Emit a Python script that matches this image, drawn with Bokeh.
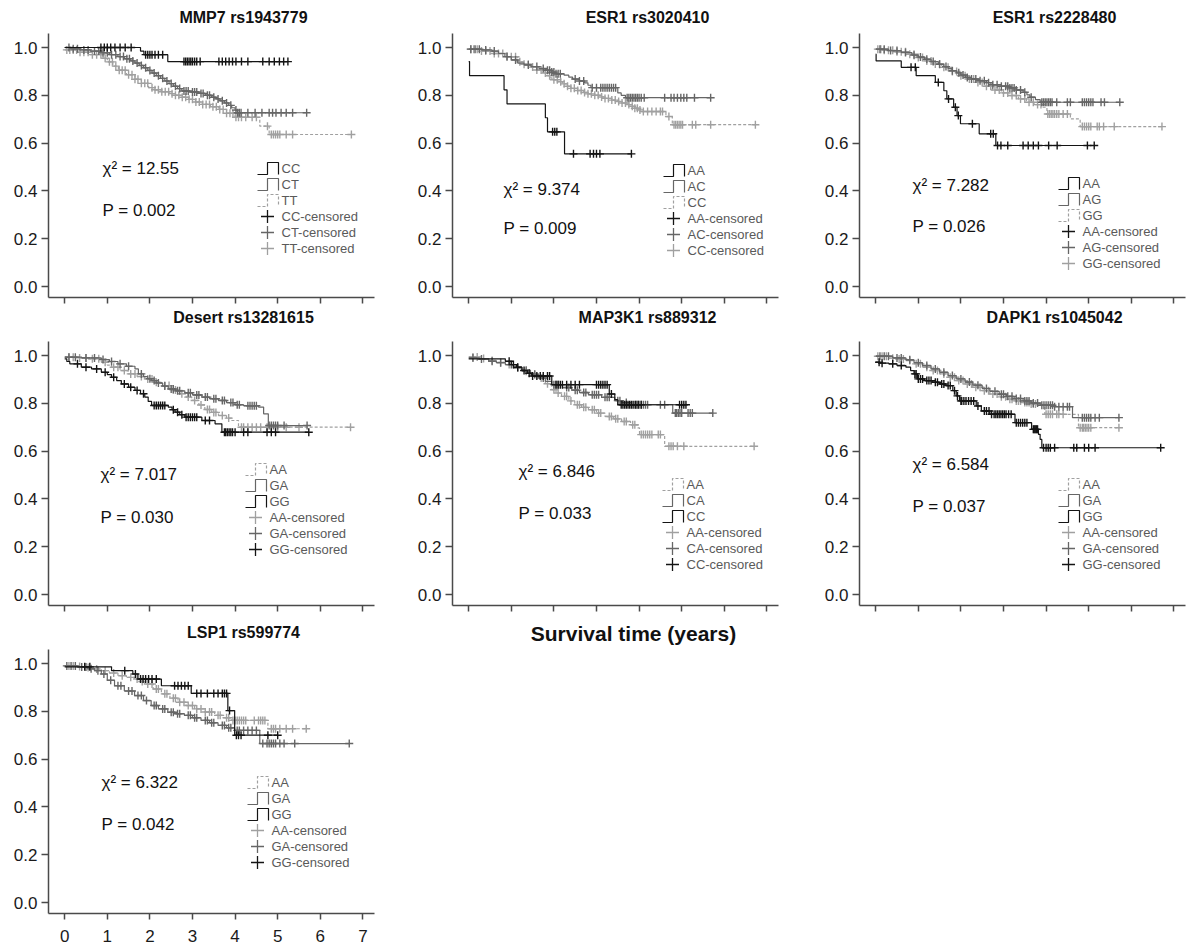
import numpy as np
from bokeh.plotting import figure
from bokeh.layouts import column, row
from bokeh.models import Range1d, FixedTicker, NumeralTickFormatter, Label, CustomLabelingPolicy
from bokeh.embed import file_html
from bokeh.resources import INLINE

# ------------------------------------------------------------------ data
X_TICKS = [0, 1, 2, 3, 4, 5, 6, 7]
Y_TICKS = [0.0, 0.2, 0.4, 0.6, 0.8, 1.0]
X_LABEL = "Survival time (years)"

TITLES = ["MMP7 rs1943779", "ESR1 rs3020410", "ESR1 rs2228480",
          "Desert rs13281615", "MAP3K1 rs889312", "DAPK1 rs1045042",
          "LSP1 rs599774"]
CHI2 = ["12.55", "9.374", "7.282", "7.017", "6.846", "6.584", "6.322"]
PVALS = ["0.002", "0.009", "0.026", "0.030", "0.033", "0.037", "0.042"]
GROUPS = [["CC", "CT", "TT"], ["AA", "AC", "CC"], ["AA", "AG", "GG"],
          ["AA", "GA", "GG"], ["AA", "CA", "CC"], ["AA", "GA", "GG"],
          ["AA", "GA", "GG"]]

# --- MMP7 rs1943779
MMP7_CC_T = [0, 1.78, 1.86, 2.42, 5.24]
MMP7_CC_S = [1.0, 0.985, 0.97, 0.941, 0.941]
MMP7_CC_C = [0.85, 0.93, 1.0, 1.08, 1.18, 1.3, 1.42, 1.56, 1.9, 1.95, 2.0, 2.05, 2.12, 2.2, 2.3,
             2.8, 2.84, 2.88, 2.92, 2.96, 3.0, 3.05, 3.1, 3.18, 3.62, 3.7, 3.78, 3.86, 3.94, 4.02,
             4.15, 4.3, 4.65, 4.8, 4.92, 5.04, 5.14, 5.24]
MMP7_CT_T = [0, 0.15, 0.35, 0.6, 0.85, 1.05, 1.25, 1.4, 1.55, 1.65, 1.75, 1.85, 1.95, 2.05, 2.15,
             2.25, 2.35, 2.45, 2.55, 2.65, 2.75, 2.95, 3.15, 3.3, 3.45, 3.55, 3.65, 3.75, 3.85,
             3.92, 4.0, 4.05, 5.68]
MMP7_CT_S = [1.0, 0.995, 0.99, 0.985, 0.978, 0.97, 0.962, 0.953, 0.944, 0.935, 0.925, 0.915,
             0.904, 0.893, 0.882, 0.871, 0.86, 0.849, 0.838, 0.828, 0.818, 0.814, 0.808, 0.8,
             0.792, 0.785, 0.777, 0.768, 0.758, 0.748, 0.738, 0.727, 0.727]
MMP7_CT_C = [0.1, 0.2, 0.3, 0.45, 0.55, 0.7, 0.8, 0.9, 1.0, 1.1, 1.2, 1.3, 1.38, 1.46, 1.52, 1.6,
             1.7, 1.8, 1.9, 2.0, 2.1, 2.2, 2.3, 2.4, 2.5, 2.6, 2.7, 2.8, 2.85, 2.9, 3.0, 3.05,
             3.1, 3.2, 3.25, 3.35, 3.4, 3.5, 3.6, 3.7, 3.8, 3.9, 4.02, 4.06, 4.1, 4.14, 4.3,
             4.47, 4.63, 4.8, 4.88, 4.96, 5.08, 5.2, 5.35, 5.68]
MMP7_TT_T = [0, 0.3, 0.6, 0.9, 1.0, 1.13, 1.26, 1.45, 1.65, 1.8, 1.97, 2.12, 2.28, 2.45, 2.6,
             2.75, 2.91, 3.07, 3.23, 3.42, 3.62, 3.8, 4.0, 4.58, 4.8, 6.73]
MMP7_TT_S = [0.99, 0.98, 0.97, 0.955, 0.94, 0.922, 0.905, 0.886, 0.867, 0.85, 0.832, 0.823,
             0.815, 0.807, 0.8, 0.792, 0.783, 0.772, 0.762, 0.752, 0.741, 0.725, 0.708, 0.671,
             0.636, 0.636]
MMP7_TT_C = [0.05, 0.12, 0.2, 0.28, 0.36, 0.45, 0.55, 0.65, 0.75, 0.85, 0.95, 1.05, 1.12, 1.2,
             1.28, 1.35, 1.42, 1.5, 1.58, 1.65, 1.72, 1.8, 1.88, 1.95, 2.05, 2.12, 2.2, 2.28,
             2.36, 2.44, 2.52, 2.6, 2.68, 2.76, 2.84, 2.92, 3.0, 3.08, 3.16, 3.24, 3.32, 3.4,
             3.48, 3.56, 3.64, 3.72, 3.8, 3.88, 3.95, 4.02, 4.08, 4.15, 4.25, 4.4, 4.5, 4.76,
             4.85, 4.9, 4.95, 5.0, 5.05, 5.2, 5.35, 6.73]

# --- ESR1 rs3020410
ESR1A_AA_T = [0, 0.02, 0.83, 0.9, 1.8, 1.85, 2.25, 3.82]
ESR1A_AA_S = [0.941, 0.882, 0.823, 0.764, 0.706, 0.647, 0.555, 0.555]
ESR1A_AA_C = [1.97, 2.02, 2.07, 2.46, 2.85, 2.93, 3.0, 3.08, 3.82]
ESR1A_AC_T = [0, 0.3, 0.55, 0.7, 0.85, 1.0, 1.15, 1.3, 1.46, 1.65, 1.81, 1.95, 2.05, 2.24, 2.35,
              2.44, 2.6, 2.72, 2.8, 2.87, 3.5, 3.58, 3.68, 5.68]
ESR1A_AC_S = [0.993, 0.99, 0.985, 0.975, 0.962, 0.948, 0.935, 0.927, 0.92, 0.912, 0.905, 0.897,
              0.89, 0.884, 0.876, 0.868, 0.86, 0.852, 0.842, 0.832, 0.81, 0.8, 0.79, 0.79]
ESR1A_AC_C = [0.05, 0.15, 0.25, 0.4, 0.6, 0.9, 1.1, 1.4, 1.6, 1.75, 1.85, 1.9, 1.95, 2.0, 2.05,
              2.1, 2.15, 2.5, 2.6, 2.7, 2.9, 3.0, 3.1, 3.15, 3.2, 3.25, 3.3, 3.35, 3.4, 3.45,
              3.72, 3.76, 3.8, 3.84, 3.88, 3.92, 3.96, 4.0, 4.05, 4.12, 4.6, 4.75, 4.82, 4.9,
              4.98, 5.05, 5.12, 5.3, 5.68]
ESR1A_CC_T = [0, 0.3, 0.6, 0.9, 1.15, 1.3, 1.46, 1.6, 1.77, 1.85, 1.93, 2.0, 2.09, 2.2, 2.3, 2.4,
              2.55, 2.7, 2.8, 2.95, 3.1, 3.2, 3.35, 3.5, 3.6, 3.72, 3.82, 3.9, 3.97, 4.04, 4.63,
              4.78, 6.73]
ESR1A_CC_S = [0.993, 0.985, 0.975, 0.961, 0.94, 0.93, 0.918, 0.906, 0.893, 0.882, 0.872, 0.865,
              0.857, 0.848, 0.838, 0.829, 0.82, 0.812, 0.806, 0.8, 0.793, 0.787, 0.78, 0.774,
              0.768, 0.761, 0.754, 0.746, 0.739, 0.732, 0.711, 0.677, 0.677]
ESR1A_CC_C = [0.05, 0.12, 0.2, 0.3, 0.4, 0.5, 0.6, 0.7, 0.8, 0.9, 1.0, 1.1, 1.2, 1.3, 1.4, 1.5,
              1.6, 1.7, 1.8, 1.9, 2.0, 2.08, 2.16, 2.24, 2.32, 2.4, 2.48, 2.56, 2.64, 2.72, 2.8,
              2.88, 2.96, 3.04, 3.12, 3.2, 3.28, 3.36, 3.44, 3.52, 3.6, 3.68, 3.76, 3.84, 3.9,
              3.96, 4.02, 4.1, 4.2, 4.3, 4.4, 4.5, 4.55, 4.7, 4.82, 4.86, 4.9, 4.94, 4.98, 5.02,
              5.25, 5.33, 5.68, 6.73]

# --- ESR1 rs2228480
ESR1B_AA_T = [0, 0.01, 0.6, 0.95, 1.4, 1.6, 1.67, 1.83, 1.91, 1.99, 2.43, 2.82, 5.13]
ESR1B_AA_S = [0.972, 0.944, 0.917, 0.882, 0.854, 0.819, 0.785, 0.75, 0.715, 0.681, 0.639, 0.59,
              0.59]
ESR1B_AA_C = [0.83, 0.93, 1.47, 1.71, 1.87, 1.94, 2.27, 2.7, 2.76, 2.86, 2.94, 3.1, 3.46, 3.58,
              3.7, 3.82, 4.06, 4.26, 4.97, 5.13]
ESR1B_AG_T = [0, 0.3, 0.6, 0.85, 1.0, 1.15, 1.3, 1.47, 1.6, 1.7, 1.79, 1.9, 2.0, 2.11, 2.25,
              2.43, 2.6, 2.74, 2.95, 3.14, 3.3, 3.46, 3.55, 3.62, 3.75, 3.86, 5.73]
ESR1B_AG_S = [0.993, 0.987, 0.979, 0.968, 0.96, 0.951, 0.941, 0.93, 0.92, 0.912, 0.903, 0.894,
              0.885, 0.875, 0.868, 0.861, 0.853, 0.844, 0.838, 0.831, 0.822, 0.8125, 0.802,
              0.792, 0.782, 0.771, 0.771]
ESR1B_AG_C = [0.1, 0.2, 0.35, 0.5, 0.7, 0.9, 1.05, 1.2, 1.35, 1.5, 1.65, 1.8, 1.95, 2.05, 2.15,
              2.25, 2.35, 2.45, 2.55, 2.65, 2.75, 2.85, 2.95, 3.05, 3.1, 3.15, 3.2, 3.25, 3.3,
              3.4, 3.5, 3.65, 3.9, 3.94, 3.98, 4.02, 4.06, 4.1, 4.14, 4.25, 4.5, 4.57, 4.85,
              4.9, 4.95, 5.0, 5.05, 5.1, 5.29, 5.37, 5.73]
ESR1B_GG_T = [0, 0.2, 0.45, 0.76, 0.95, 1.15, 1.35, 1.55, 1.75, 1.95, 2.15, 2.35, 2.55, 2.74,
              2.95, 3.14, 3.35, 3.54, 3.72, 3.9, 4.02, 4.57, 4.8, 6.72]
ESR1B_GG_S = [0.993, 0.988, 0.982, 0.972, 0.958, 0.944, 0.931, 0.917, 0.9, 0.882, 0.868, 0.854,
              0.838, 0.822, 0.81, 0.799, 0.785, 0.771, 0.761, 0.75, 0.722, 0.701, 0.669, 0.669]
ESR1B_GG_C = [0.05, 0.12, 0.2, 0.3, 0.4, 0.5, 0.6, 0.7, 0.8, 0.9, 1.0, 1.1, 1.2, 1.3, 1.4, 1.5,
              1.6, 1.7, 1.8, 1.9, 2.0, 2.1, 2.2, 2.3, 2.4, 2.5, 2.6, 2.7, 2.8, 2.9, 3.0, 3.1,
              3.2, 3.3, 3.4, 3.5, 3.6, 3.7, 3.8, 3.88, 4.04, 4.08, 4.12, 4.16, 4.2, 4.25, 4.3,
              4.4, 4.5, 4.85, 4.9, 4.95, 5.0, 5.05, 5.2, 5.25, 5.35, 5.6, 6.72]

# --- Desert rs13281615
DESERT_AA_T = [0, 0.3, 0.55, 0.86, 1.0, 1.1, 1.3, 1.49, 1.7, 1.88, 2.1, 2.27, 2.5, 2.67, 2.85,
               2.98, 3.15, 3.29, 3.45, 3.61, 3.8, 3.92, 4.08, 6.71]
DESERT_AA_S = [0.993, 0.99, 0.986, 0.972, 0.96, 0.951, 0.937, 0.923, 0.912, 0.902, 0.888, 0.874,
               0.856, 0.84, 0.826, 0.812, 0.793, 0.774, 0.762, 0.749, 0.738, 0.728, 0.70, 0.70]
DESERT_AA_C = [0.1, 0.2, 0.35, 0.5, 0.65, 0.8, 0.95, 1.15, 1.25, 1.4, 1.55, 1.65, 1.8, 1.95,
               2.05, 2.15, 2.35, 2.45, 2.55, 2.6, 2.75, 2.9, 3.05, 3.2, 3.35, 3.4, 3.5, 3.55,
               3.7, 3.85, 4.15, 4.2, 4.3, 4.4, 4.5, 4.6, 4.75, 4.85, 5.0, 5.2, 5.5, 6.71]
DESERT_GA_T = [0, 0.4, 0.86, 1.05, 1.25, 1.45, 1.65, 1.73, 1.85, 1.95, 2.04, 2.15, 2.3, 2.43,
               2.6, 2.82, 3.0, 3.22, 3.4, 3.61, 3.8, 4.0, 4.2, 4.55, 4.67, 4.78, 5.69]
DESERT_GA_S = [0.993, 0.99, 0.983, 0.975, 0.965, 0.955, 0.944, 0.923, 0.912, 0.903, 0.895, 0.885,
               0.872, 0.86, 0.852, 0.844, 0.835, 0.826, 0.819, 0.812, 0.803, 0.794, 0.79, 0.784,
               0.756, 0.707, 0.707]
DESERT_GA_C = [0.1, 0.25, 0.5, 0.7, 0.9, 1.1, 1.3, 1.5, 1.8, 2.0, 2.1, 2.2, 2.35, 2.5, 2.55,
               2.65, 2.7, 2.9, 2.95, 3.1, 3.15, 3.3, 3.35, 3.5, 3.55, 3.7, 3.75, 3.9, 3.95, 4.05,
               4.1, 4.3, 4.35, 4.4, 4.45, 4.5, 4.8, 4.85, 4.9, 4.95, 5.0, 5.15, 5.69]
DESERT_GG_T = [0, 0.05, 0.12, 0.39, 0.63, 0.86, 1.0, 1.1, 1.22, 1.33, 1.5, 1.65, 1.78, 1.88,
               1.96, 2.04, 2.43, 2.52, 2.59, 2.7, 2.82, 3.22, 3.53, 3.69, 5.73]
DESERT_GG_S = [0.986, 0.975, 0.965, 0.951, 0.944, 0.93, 0.92, 0.909, 0.895, 0.881, 0.867, 0.854,
               0.84, 0.826, 0.808, 0.791, 0.784, 0.773, 0.763, 0.752, 0.742, 0.728, 0.714, 0.679,
               0.679]
DESERT_GG_C = [0.3, 0.5, 0.75, 0.95, 1.15, 1.4, 1.55, 1.7, 1.85, 2.1, 2.15, 2.2, 2.25, 2.3, 2.35,
               2.55, 2.65, 2.75, 2.85, 2.9, 2.95, 3.0, 3.05, 3.1, 3.3, 3.4, 3.75, 3.78, 3.82,
               3.86, 3.9, 3.94, 4.0, 4.2, 4.3, 4.75, 4.85, 4.95, 5.73]

# --- MAP3K1 rs889312
MAP3K1_AA_T = [0, 0.25, 0.47, 0.65, 0.86, 1.05, 1.25, 1.45, 1.64, 1.8, 1.95, 2.05, 2.18, 2.35,
               2.49, 2.65, 2.81, 3.0, 3.2, 3.4, 3.59, 3.8, 3.97, 4.01, 4.6, 6.7]
MAP3K1_AA_S = [0.994, 0.987, 0.979, 0.971, 0.962, 0.948, 0.934, 0.92, 0.906, 0.882, 0.857, 0.843,
               0.829, 0.81, 0.794, 0.783, 0.773, 0.759, 0.745, 0.735, 0.724, 0.71, 0.697, 0.669,
               0.62, 0.62]
MAP3K1_AA_C = [0.1, 0.2, 0.35, 0.55, 0.75, 0.95, 1.15, 1.35, 1.55, 1.7, 1.85, 2.0, 2.1, 2.25,
               2.3, 2.4, 2.55, 2.6, 2.7, 2.75, 2.9, 2.95, 3.05, 3.1, 3.3, 3.35, 3.45, 3.5, 3.65,
               3.7, 3.85, 3.9, 4.05, 4.1, 4.15, 4.2, 4.25, 4.3, 4.45, 4.5, 4.7, 4.75, 4.8, 4.9,
               5.05, 6.7]
MAP3K1_CA_T = [0, 0.25, 0.47, 0.65, 0.86, 1.05, 1.25, 1.45, 1.64, 1.8, 1.95, 2.2, 2.42, 2.6,
               2.81, 3.12, 3.43, 3.6, 3.82, 4.79, 5.73]
MAP3K1_CA_S = [0.99, 0.985, 0.976, 0.97, 0.962, 0.95, 0.938, 0.922, 0.906, 0.892, 0.878, 0.866,
               0.855, 0.845, 0.836, 0.825, 0.811, 0.803, 0.794, 0.759, 0.759]
MAP3K1_CA_C = [0.1, 0.3, 0.55, 0.75, 1.0, 1.15, 1.35, 1.55, 1.75, 2.0, 2.05, 2.1, 2.3, 2.35, 2.5,
               2.55, 2.7, 2.75, 2.9, 2.95, 3.0, 3.05, 3.2, 3.25, 3.3, 3.5, 3.55, 3.7, 3.9, 3.95,
               4.0, 4.05, 4.1, 4.15, 4.2, 4.5, 4.6, 4.85, 4.88, 4.92, 4.96, 5.0, 5.15, 5.2, 5.25,
               5.73]
MAP3K1_CC_T = [0, 0.86, 1.0, 1.12, 1.25, 1.38, 1.48, 1.95, 3.3, 3.43, 3.5, 5.1]
MAP3K1_CC_S = [0.986, 0.976, 0.962, 0.951, 0.937, 0.926, 0.914, 0.878, 0.839, 0.815, 0.794, 0.794]
MAP3K1_CC_C = [0.95, 1.05, 1.15, 1.3, 1.42, 1.5, 1.6, 1.68, 1.75, 1.85, 1.9, 2.05, 2.1, 2.15,
               2.2, 2.3, 2.4, 2.5, 2.6, 3.0, 3.05, 3.1, 3.15, 3.2, 3.25, 3.35, 3.58, 3.62, 3.66,
               3.7, 3.74, 3.78, 3.82, 3.86, 3.92, 3.98, 4.05, 4.95, 5.0, 5.05, 5.1]

# --- DAPK1 rs1045042
DAPK1_AA_T = [0, 0.31, 0.5, 0.71, 0.9, 1.1, 1.3, 1.5, 1.7, 1.89, 2.1, 2.28, 2.5, 2.68, 2.9,
              3.07, 3.25, 3.46, 3.62, 3.78, 3.97, 4.76, 5.71]
DAPK1_AA_S = [0.997, 0.989, 0.985, 0.979, 0.965, 0.951, 0.937, 0.923, 0.909, 0.895, 0.881, 0.867,
              0.853, 0.839, 0.827, 0.817, 0.81, 0.803, 0.797, 0.792, 0.754, 0.698, 0.698]
DAPK1_AA_C = [0.05, 0.15, 0.25, 0.4, 0.55, 0.65, 0.8, 0.95, 1.05, 1.2, 1.35, 1.45, 1.6, 1.75,
              1.85, 1.95, 2.05, 2.15, 2.25, 2.35, 2.45, 2.55, 2.65, 2.75, 2.85, 2.95, 3.05, 3.15,
              3.2, 3.3, 3.35, 3.4, 3.5, 3.55, 3.6, 3.65, 3.7, 3.75, 4.0, 4.05, 4.1, 4.15, 4.25,
              4.3, 4.4, 4.8, 4.85, 4.88, 4.92, 4.96, 5.0, 5.05, 5.71]
DAPK1_GA_T = [0, 0.4, 0.71, 0.9, 1.1, 1.3, 1.5, 1.7, 1.89, 2.1, 2.28, 2.5, 2.68, 2.9, 3.07,
              3.25, 3.46, 3.65, 3.86, 4.2, 4.62, 5.71]
DAPK1_GA_S = [0.997, 0.99, 0.982, 0.97, 0.958, 0.944, 0.93, 0.916, 0.902, 0.889, 0.876, 0.862,
              0.85, 0.838, 0.829, 0.82, 0.81, 0.801, 0.792, 0.786, 0.74, 0.74]
DAPK1_GA_C = [0.1, 0.2, 0.3, 0.5, 0.6, 0.8, 1.0, 1.2, 1.4, 1.6, 1.8, 2.0, 2.2, 2.4, 2.6, 2.8,
              2.95, 3.0, 3.1, 3.2, 3.3, 3.4, 3.5, 3.55, 3.6, 3.7, 3.8, 3.9, 3.95, 4.0, 4.05, 4.1,
              4.15, 4.2, 4.3, 4.4, 4.5, 4.55, 4.85, 4.9, 4.95, 5.0, 5.05, 5.15, 5.25, 5.71]
DAPK1_GG_T = [0, 0.1, 0.31, 0.5, 0.71, 0.82, 0.9, 0.98, 1.15, 1.34, 1.5, 1.65, 1.81, 1.89, 1.97,
              2.36, 2.48, 2.68, 3.27, 3.66, 3.82, 3.86, 3.9, 6.69]
DAPK1_GG_S = [0.972, 0.968, 0.965, 0.958, 0.951, 0.937, 0.923, 0.902, 0.895, 0.888, 0.881, 0.874,
              0.853, 0.831, 0.81, 0.789, 0.768, 0.754, 0.719, 0.691, 0.67, 0.649, 0.614, 0.614]
DAPK1_GG_C = [0.08, 0.15, 0.4, 0.6, 0.92, 0.95, 1.0, 1.05, 1.1, 1.2, 1.25, 1.3, 1.4, 1.45, 1.55,
              1.6, 1.7, 1.75, 1.85, 1.92, 2.0, 2.02, 2.07, 2.12, 2.18, 2.24, 2.3, 2.4, 2.55, 2.6,
              2.66, 2.72, 2.78, 2.82, 2.86, 2.9, 2.94, 2.98, 3.02, 3.06, 3.12, 3.18, 3.3, 3.35,
              3.4, 3.45, 3.5, 3.55, 3.7, 3.72, 3.74, 3.76, 3.78, 3.8, 3.94, 4.0, 4.05, 4.1, 4.2,
              4.65, 4.72, 4.9, 5.0, 5.15, 6.69]

# --- LSP1 rs599774
LSP1_AA_T = [0, 0.25, 0.47, 0.65, 0.86, 1.05, 1.25, 1.45, 1.64, 1.76, 1.88, 2.08, 2.27, 2.47,
             2.66, 2.85, 3.05, 3.28, 3.52, 3.72, 3.91, 4.77, 5.67]
LSP1_AA_S = [0.99, 0.987, 0.983, 0.977, 0.97, 0.96, 0.949, 0.942, 0.935, 0.925, 0.914, 0.893,
             0.873, 0.855, 0.838, 0.824, 0.81, 0.797, 0.783, 0.773, 0.762, 0.727, 0.727]
LSP1_AA_C = [0.1, 0.2, 0.35, 0.55, 0.75, 0.95, 1.15, 1.35, 1.55, 1.7, 1.82, 1.95, 2.05, 2.15,
             2.2, 2.35, 2.4, 2.55, 2.6, 2.7, 2.8, 2.9, 3.0, 3.1, 3.2, 3.3, 3.4, 3.45, 3.6, 3.65,
             3.8, 3.85, 3.95, 4.0, 4.05, 4.1, 4.15, 4.2, 4.25, 4.45, 4.55, 4.6, 4.65, 4.7, 4.85,
             4.9, 4.95, 5.05, 5.2, 5.35, 5.67]
LSP1_GA_T = [0, 0.3, 0.55, 0.7, 0.86, 1.0, 1.17, 1.4, 1.64, 1.85, 2.03, 2.2, 2.42, 2.6, 2.81,
             3.0, 3.2, 3.4, 3.6, 3.8, 3.99, 4.58, 6.68]
LSP1_GA_S = [0.99, 0.985, 0.978, 0.97, 0.956, 0.93, 0.907, 0.885, 0.866, 0.845, 0.824, 0.81,
             0.796, 0.79, 0.783, 0.773, 0.762, 0.752, 0.741, 0.731, 0.72, 0.665, 0.665]
LSP1_GA_C = [0.05, 0.15, 0.25, 0.4, 0.5, 0.62, 0.78, 0.92, 1.08, 1.25, 1.32, 1.5, 1.58, 1.72,
             1.8, 1.92, 2.1, 2.15, 2.3, 2.35, 2.5, 2.55, 2.65, 2.7, 2.9, 2.95, 3.05, 3.1, 3.3,
             3.35, 3.45, 3.5, 3.7, 3.75, 3.85, 3.9, 4.05, 4.1, 4.2, 4.3, 4.4, 4.5, 4.65, 4.75,
             4.8, 4.85, 4.9, 4.95, 5.05, 5.15, 5.4, 6.68]
LSP1_GG_T = [0, 1.1, 1.6, 1.72, 2.27, 2.97, 3.83, 3.99, 5.0]
LSP1_GG_S = [0.986, 0.97, 0.956, 0.935, 0.907, 0.875, 0.803, 0.70, 0.70]
LSP1_GG_C = [0.47, 0.59, 1.41, 1.66, 1.78, 1.84, 1.9, 1.97, 2.05, 2.15, 2.58, 2.66, 2.74, 2.82,
             2.9, 3.1, 3.2, 3.35, 3.5, 3.6, 3.7, 3.75, 3.8, 3.87, 4.03, 4.08, 4.14, 4.77, 5.0]

PANEL_SERIES = [
    [(MMP7_CC_T, MMP7_CC_S, MMP7_CC_C), (MMP7_CT_T, MMP7_CT_S, MMP7_CT_C), (MMP7_TT_T, MMP7_TT_S, MMP7_TT_C)],
    [(ESR1A_AA_T, ESR1A_AA_S, ESR1A_AA_C), (ESR1A_AC_T, ESR1A_AC_S, ESR1A_AC_C), (ESR1A_CC_T, ESR1A_CC_S, ESR1A_CC_C)],
    [(ESR1B_AA_T, ESR1B_AA_S, ESR1B_AA_C), (ESR1B_AG_T, ESR1B_AG_S, ESR1B_AG_C), (ESR1B_GG_T, ESR1B_GG_S, ESR1B_GG_C)],
    [(DESERT_AA_T, DESERT_AA_S, DESERT_AA_C), (DESERT_GA_T, DESERT_GA_S, DESERT_GA_C), (DESERT_GG_T, DESERT_GG_S, DESERT_GG_C)],
    [(MAP3K1_AA_T, MAP3K1_AA_S, MAP3K1_AA_C), (MAP3K1_CA_T, MAP3K1_CA_S, MAP3K1_CA_C), (MAP3K1_CC_T, MAP3K1_CC_S, MAP3K1_CC_C)],
    [(DAPK1_AA_T, DAPK1_AA_S, DAPK1_AA_C), (DAPK1_GA_T, DAPK1_GA_S, DAPK1_GA_C), (DAPK1_GG_T, DAPK1_GG_S, DAPK1_GG_C)],
    [(LSP1_AA_T, LSP1_AA_S, LSP1_AA_C), (LSP1_GA_T, LSP1_GA_S, LSP1_GA_C), (LSP1_GG_T, LSP1_GG_S, LSP1_GG_C)],
]

# ------------------------------------------------------------------ styles / layout
STYLES = {
    "k": dict(color="#141414", dash="solid"),
    "m": dict(color="#666666", dash="solid"),
    "l": dict(color="#a0a0a0", dash="3 2"),
}
PANEL_STYLES = [["k", "m", "l"]] * 3 + [["l", "m", "k"]] * 4
DRAW_ORDER = {"l": 0, "m": 1, "k": 2}

FONT = "Liberation Sans"
AXIS_COLOR = "#4a4a4a"
FW, FH = 326, 264            # size of the axes box (y-axis line length = FH)
PXY = 239.0                  # pixels per unit of survival
X0 = -0.38
X1 = X0 + FW / 42.6
Y1 = 1.0 + 14 / PXY
Y0 = -11 / PXY

COL_L = [48, 44, 46]
COL_R = [34, 35, 6]
ROW_T = [33, 33, 32]         # headroom above the axes box (title lives here)
ROW_B = [11, 12, 36]
TITLE_GAP = [16, 24, 17]     # px from axes-box top to title centre
TITLE_CX = 195               # px from frame left to title centre

# frame-relative pixel anchors
LEG_POS = [(209, 135), (211, 137), (199, 150), (197, 128), (210, 143), (199, 143), (199, 133)]
STAT_POS = [(54, 135, 177), (51, 156, 195), (53, 152, 193), (52, 133, 176),
            (66, 130, 172), (53, 123, 165), (53, 133, 175)]

NO_LABELS = CustomLabelingPolicy(code="return []")


def fx(dx):
    return X0 + dx / FW * (X1 - X0)


def fy(dy):
    return Y1 - dy / PXY


def surv_at(t, s, c):
    idx = np.searchsorted(np.asarray(t), np.asarray(c), side="right") - 1
    return np.asarray(s)[np.clip(idx, 0, None)]


def make_panel(i):
    r, c = divmod(i, 3)
    y_top = Y1 + ROW_T[r] / PXY
    p = figure(width=COL_L[c] + FW + COL_R[c], height=ROW_T[r] + FH + ROW_B[r],
               x_range=Range1d(X0, X1), y_range=Range1d(Y0, y_top),
               output_backend="svg", toolbar_location=None, title=None,
               min_border_left=COL_L[c], min_border_right=COL_R[c],
               min_border_top=0, min_border_bottom=ROW_B[r])
    p.grid.visible = False
    p.outline_line_color = None
    p.background_fill_color = "white"
    p.border_fill_color = "white"

    for ax in (p.xaxis[0], p.yaxis[0]):
        ax.axis_line_color = AXIS_COLOR
        ax.axis_line_width = 1.5
        ax.major_tick_line_color = AXIS_COLOR
        ax.major_tick_line_width = 1.5
        ax.major_tick_in = 0
        ax.minor_tick_in = 0
        ax.minor_tick_out = 0
        ax.major_label_text_font = FONT
        ax.major_label_text_font_size = "17px"
        ax.major_label_text_color = "#1a1a1a"
    p.yaxis.ticker = FixedTicker(ticks=Y_TICKS)
    p.yaxis.formatter = NumeralTickFormatter(format="0.0")
    p.yaxis.bounds = (Y0, Y1)
    p.yaxis.major_tick_out = 7
    p.yaxis.major_label_standoff = 4
    p.xaxis.ticker = FixedTicker(ticks=X_TICKS)
    p.xaxis.major_tick_out = 6
    if i < 6:
        p.xaxis.major_label_policy = NO_LABELS
        p.xaxis.major_label_text_font_size = "0px"
        p.xaxis.major_label_standoff = 0
    else:
        p.xaxis.major_label_standoff = 10

    series = PANEL_SERIES[i]
    styles = PANEL_STYLES[i]
    order = sorted(range(3), key=lambda j: DRAW_ORDER[styles[j]])
    for j in order:
        t, s, cens = series[j]
        st = STYLES[styles[j]]
        p.step(x=t, y=s, mode="after", line_color=st["color"], line_width=1.2,
               line_dash=st["dash"])
        p.scatter(x=cens, y=surv_at(t, s, cens), marker="cross", size=8,
                  line_color=st["color"], line_width=1.4)

    # panel title (inside the headroom of the frame)
    p.add_layout(Label(x=fx(TITLE_CX), y=fy(-TITLE_GAP[r]), text=TITLES[i],
                       text_align="center", text_baseline="middle", text_font=FONT,
                       text_font_size="16px", text_font_style="bold", text_color="#111111"))

    # statistics text
    sx, sy1, sy2 = STAT_POS[i]
    p.add_layout(Label(x=fx(sx), y=fy(sy1), text="\u03c7\u00b2 = " + CHI2[i],
                       text_baseline="middle", text_font=FONT, text_font_size="17px",
                       text_color="#111111"))
    p.add_layout(Label(x=fx(sx), y=fy(sy2), text="P = " + PVALS[i],
                       text_baseline="middle", text_font=FONT, text_font_size="17px",
                       text_color="#111111"))

    # custom legend
    lx, ly = LEG_POS[i]
    for j, g in enumerate(GROUPS[i]):
        st = STYLES[styles[j]]
        yc = ly + 16 * j
        xs_px = [lx, lx + 10, lx + 10, lx + 21, lx + 21]
        ys_px = [yc + 6, yc + 6, yc - 6, yc - 6, yc + 6]
        p.line([fx(v) for v in xs_px], [fy(v) for v in ys_px], line_color=st["color"],
               line_width=1.2, line_dash=st["dash"])
        p.add_layout(Label(x=fx(lx + 24), y=fy(yc), text=g, text_baseline="middle",
                           text_font=FONT, text_font_size="13px", text_color="#5a5a5a"))
    for j, g in enumerate(GROUPS[i]):
        st = STYLES[styles[j]]
        yc = ly + 16 * (3 + j)
        p.scatter([fx(lx + 10)], [fy(yc)], marker="cross", size=13, line_color=st["color"],
                  line_width=1.3)
        p.add_layout(Label(x=fx(lx + 24), y=fy(yc), text=g + "-censored",
                           text_baseline="middle", text_font=FONT, text_font_size="13px",
                           text_color="#5a5a5a"))
    return p


panels = [make_panel(i) for i in range(7)]

# axis title on a blank figure whose frame is the whole canvas
LAB_W = (COL_L[1] + FW + COL_R[1]) + (COL_L[2] + FW + COL_R[2])
LAB_H = ROW_T[2] + FH + ROW_B[2]
lab = figure(width=LAB_W, height=LAB_H,
             x_range=Range1d(0, LAB_W), y_range=Range1d(0, LAB_H),
             x_axis_type=None, y_axis_type=None, output_backend="svg",
             toolbar_location=None, title=None,
             min_border_left=0, min_border_right=0,
             min_border_top=0, min_border_bottom=0)
lab.outline_line_color = None
lab.grid.visible = False
lab.add_layout(Label(x=225, y=LAB_H - 18, text=X_LABEL, text_align="center",
                     text_baseline="middle", text_font=FONT, text_font_size="21px",
                     text_font_style="bold", text_color="#111111"))

layout = column(row(panels[0], panels[1], panels[2]),
                row(panels[3], panels[4], panels[5]),
                row(panels[6], lab))

open("out.html", "w").write(file_html(layout, INLINE))
